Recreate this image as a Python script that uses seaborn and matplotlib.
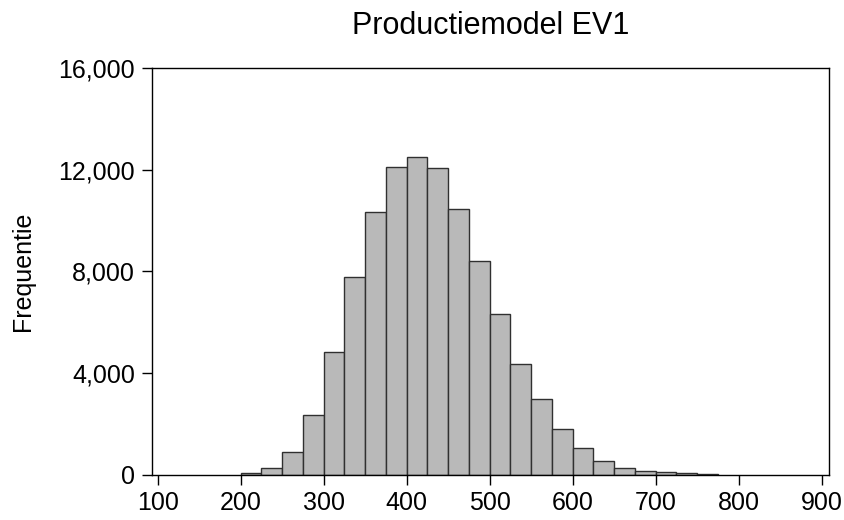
import numpy as np
import pandas as pd
import seaborn as sns
import matplotlib.pyplot as plt
from matplotlib.ticker import FuncFormatter

# bin left edges (width 25) and counts
bin_starts = [200, 225, 250, 275, 300, 325, 350, 375, 400, 425, 450, 475,
              500, 525, 550, 575, 600, 625, 650, 675, 700, 725, 750]
counts = [40, 260, 885, 2330, 4840, 7770, 10330, 12110, 12500, 12070, 10470, 8420,
          6320, 4365, 2960, 1800, 1055, 545, 270, 150, 85, 40, 25]
bin_width = 25
x_ticks = [100, 200, 300, 400, 500, 600, 700, 800, 900]
y_ticks = [0, 4000, 8000, 12000, 16000]

sns.set_style('white')
plt.rcParams['font.family'] = ['Liberation Sans', 'DejaVu Sans']
plt.rcParams['text.color'] = 'black'
plt.rcParams['axes.labelcolor'] = 'black'
plt.rcParams['xtick.color'] = 'black'
plt.rcParams['ytick.color'] = 'black'

df = pd.DataFrame({'waarde': np.array(bin_starts) + bin_width / 2, 'n': counts})
edges = list(bin_starts) + [bin_starts[-1] + bin_width]

fig = plt.figure(figsize=(8.44, 5.2), dpi=100)
ax = fig.add_axes([0.1797, 0.0875, 0.8025, 0.7812])

sns.histplot(data=df, x='waarde', weights='n', bins=edges, ax=ax,
             color='#b9b9b9', alpha=1, edgecolor='#303030', linewidth=1.0)

ax.set_xlim(92.8, 908.8)
ax.set_ylim(0, 16000)
ax.set_xticks(x_ticks)
ax.set_yticks(y_ticks)
ax.yaxis.set_major_formatter(FuncFormatter(lambda v, p: f'{int(v):,}'))
ax.tick_params(axis='both', direction='out', length=7, width=1,
               labelsize=18, bottom=True, left=True)
ax.tick_params(axis='y', pad=5)
ax.tick_params(axis='x', pad=5)
for s in ax.spines.values():
    s.set_color('black')
    s.set_linewidth(1.0)

ax.set_xlabel('')
ax.set_ylabel('Frequentie', fontsize=18, labelpad=17)
ax.set_title('Productiemodel EV1', fontsize=22, pad=25)

plt.savefig('out.png', dpi=100)
